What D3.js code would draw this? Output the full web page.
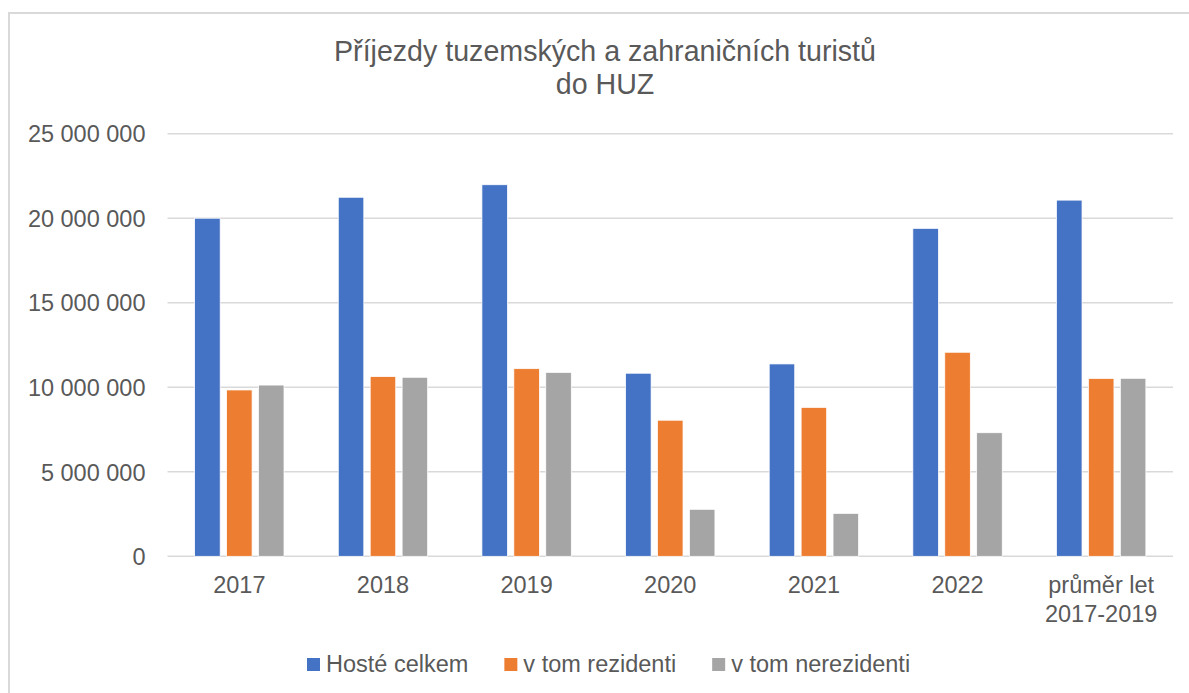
<!DOCTYPE html>
<html>
<head>
<meta charset="utf-8">
<script src="https://cdn.jsdelivr.net/npm/d3@7"></script>
<style>
  body { margin: 0; background: #fff; }
  text { font-family: "Liberation Sans", Arial, sans-serif; fill: #595959; }
</style>
</head>
<body>
<div id="chart"></div>
<script>
// categories and series
var categories = ["2017", "2018", "2019", "2020", "2021", "2022", "průměr let 2017-2019"];
var categoryLines = [["2017"], ["2018"], ["2019"], ["2020"], ["2021"], ["2022"], ["průměr let", "2017-2019"]];
var seriesNames = ["Hosté celkem", "v tom rezidenti", "v tom nerezidenti"];
var seriesColors = ["#4472c4", "#ed7d31", "#a5a5a5"];
var hosteCelkem = [20000000, 21240000, 21980000, 10830000, 11380000, 19400000, 21070000];
var rezidenti   = [9840000, 10630000, 11100000, 8050000, 8810000, 12070000, 10520000];
var nerezidenti = [10130000, 10590000, 10880000, 2780000, 2540000, 7310000, 10530000];
var yTicks = [0, 5000000, 10000000, 15000000, 20000000, 25000000];

var width = 1189, height = 693;
var values = [hosteCelkem, rezidenti, nerezidenti];

var svg = d3.select("#chart").append("svg")
    .attr("width", width)
    .attr("height", height);

// outer frame (clipped on the right and bottom like in the source)
svg.append("rect")
    .attr("x", 9).attr("y", 13)
    .attr("width", 1300).attr("height", 800)
    .attr("fill", "none")
    .attr("stroke", "#d9d9d9")
    .attr("stroke-width", 2);

var x = d3.scaleBand()
    .domain(categories)
    .range([167.5, 1173]);

var x1 = d3.scaleBand()
    .domain(seriesNames)
    .range([0, x.bandwidth()])
    .paddingInner(0.2)
    .paddingOuter(0.85);

var y = d3.scaleLinear()
    .domain([0, 25000000])
    .range([556.3, 133.7]);

var locale = d3.formatLocale({decimal: ",", thousands: " ", grouping: [3], currency: ["", ""]});
var fmt = locale.format(",d");

// gridlines
svg.append("g").selectAll("line")
    .data(yTicks)
  .enter().append("line")
    .attr("x1", 167.5).attr("x2", 1173)
    .attr("y1", function(d) { return y(d); })
    .attr("y2", function(d) { return y(d); })
    .attr("stroke", "#d9d9d9")
    .attr("stroke-width", 1.5);

// y axis labels
var yAxis = svg.append("g")
    .attr("transform", "translate(167.5,0)")
    .call(d3.axisLeft(y).tickValues(yTicks).tickFormat(fmt).tickSize(0).tickPadding(22));
yAxis.select(".domain").remove();
yAxis.selectAll("text")
    .attr("fill", "#595959")
    .style("font-size", "23.5px")
    .attr("dy", "0.35em");

// bars
var groups = svg.append("g").selectAll("g")
    .data(categories)
  .enter().append("g")
    .attr("transform", function(d) { return "translate(" + x(d) + ",0)"; });

groups.selectAll("rect")
    .data(function(d, i) {
      return seriesNames.map(function(s, j) { return {series: s, value: values[j][i], color: seriesColors[j]}; });
    })
  .enter().append("rect")
    .attr("x", function(d) { return x1(d.series); })
    .attr("width", x1.bandwidth())
    .attr("y", function(d) { return y(d.value); })
    .attr("height", function(d) { return y(0) - y(d.value); })
    .attr("fill", function(d) { return d.color; })
    .attr("stroke", "#fff")
    .attr("stroke-width", 0.75);

// x labels
var xl = svg.append("g").selectAll("text")
    .data(categories)
  .enter().append("text")
    .attr("x", function(d) { return x(d) + x.bandwidth() / 2; })
    .attr("y", 593)
    .attr("text-anchor", "middle")
    .style("font-size", "23.5px");
xl.each(function(d, i) {
  var t = d3.select(this);
  categoryLines[i].forEach(function(line, k) {
    t.append("tspan")
      .attr("x", x(d) + x.bandwidth() / 2)
      .attr("dy", k === 0 ? 0 : 28.5)
      .text(line);
  });
});

// title
var title = svg.append("text")
    .attr("x", 605)
    .attr("y", 61)
    .attr("text-anchor", "middle")
    .style("font-size", "28.6px");
title.append("tspan").attr("x", 605).text("Příjezdy tuzemských a zahraničních turistů");
title.append("tspan").attr("x", 605).attr("dy", 33).text("do HUZ");

// legend
var legend = svg.append("g");
var lx = 307;
seriesNames.forEach(function(s, i) {
  legend.append("rect")
    .attr("x", lx).attr("y", 658)
    .attr("width", 13).attr("height", 13)
    .attr("fill", seriesColors[i]);
  var t = legend.append("text")
    .attr("x", lx + 19).attr("y", 671.5)
    .style("font-size", "23.5px")
    .text(s);
  lx += 19 + t.node().getComputedTextLength() + 36;
});
</script>
</body>
</html>
